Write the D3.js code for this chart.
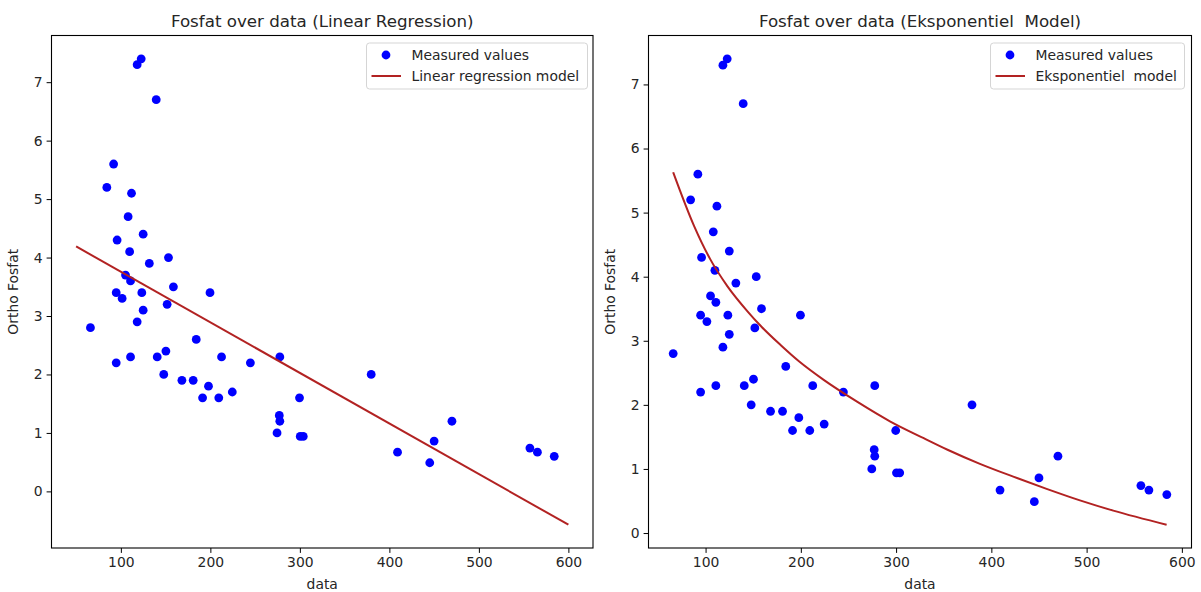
<!DOCTYPE html>
<html>
<head>
<meta charset="utf-8">
<script src="https://cdn.jsdelivr.net/npm/d3@7"></script>
<style>
  html, body { margin: 0; padding: 0; background: #fff; }
  svg { display: block; font-family: "DejaVu Sans", sans-serif; }
  text { white-space: pre; }
</style>
</head>
<body>
<svg id="chart" width="1201" height="592"></svg>
<script>
// ---------- data ----------
const dataX = [118.2, 122.7, 139.5, 91.9, 84.3, 111.9, 108.1, 95.8, 124.9, 109.8,
  153.2, 131.8, 105.2, 110.8, 94.8, 101.4, 123.4, 158.7, 199.6, 151.7,
  124.9, 118.2, 66.0, 184.2, 94.8, 110.8, 140.6, 150.3, 212.5, 244.7,
  277.6, 147.9, 168.2, 180.8, 197.9, 191.3, 209.4, 224.5, 299.6, 277.0,
  277.6, 274.5, 300.4, 303.8, 379.7, 409.1, 445.1, 450.0, 469.9, 557.0,
  565.4, 584.2];
const dataY = [7.3, 7.4, 6.7, 5.6, 5.2, 5.1, 4.7, 4.3, 4.4, 4.1,
  4.0, 3.9, 3.7, 3.6, 3.4, 3.3, 3.4, 3.5, 3.4, 3.2,
  3.1, 2.9, 2.8, 2.6, 2.2, 2.3, 2.3, 2.4, 2.3, 2.2,
  2.3, 2.0, 1.9, 1.9, 1.8, 1.6, 1.6, 1.7, 1.6, 1.3,
  1.2, 1.0, 0.94, 0.94, 2.0, 0.67, 0.49, 0.86, 1.2, 0.74,
  0.67, 0.6];

// linear regression model
const linX = [50, 600];
const linY = [4.19, -0.57];

// exponential model curve
const expX = [66, 88, 105, 123, 144, 158, 179, 198, 224, 259, 294, 329, 354, 388, 423, 458, 493, 528, 584];
const expY = [5.63, 4.79, 4.27, 3.85, 3.46, 3.23, 2.93, 2.68, 2.39, 2.05, 1.74, 1.48, 1.30, 1.08, 0.88, 0.69, 0.51, 0.35, 0.13];

const xTicks = [100, 200, 300, 400, 500, 600];
const yTicks = [0, 1, 2, 3, 4, 5, 6, 7];

const titles = ["Fosfat over data (Linear Regression)", "Fosfat over data (Eksponentiel  Model)"];
const legendLabels = [["Measured values", "Linear regression model"], ["Measured values", "Eksponentiel  model"]];
const xLabel = "data";
const yLabel = "Ortho Fosfat";

// ---------- drawing ----------
const svg = d3.select("#chart");
const pointColor = "#0000ff";
const lineColor = "#b22222";
const points = dataX.map((x, i) => ({x, y: dataY[i]}));

function padded(ext) {
  const r = ext[1] - ext[0];
  return [ext[0] - 0.05 * r, ext[1] + 0.05 * r];
}

const panels = [
  {left: 51.5, right: 593, top: 35.5, bottom: 548,
   curve: linX.map((x, i) => ({x, y: linY[i]})), curveType: d3.curveLinear,
   title: titles[0], legend: legendLabels[0],
   legendBox: {x: 366.5, y: 43, w: 221}},
  {left: 648.5, right: 1191.5, top: 35.5, bottom: 548,
   curve: expX.map((x, i) => ({x, y: expY[i]})), curveType: d3.curveMonotoneX,
   title: titles[1], legend: legendLabels[1],
   legendBox: {x: 990.5, y: 43, w: 194}}
];

panels.forEach(p => {
  const allX = dataX.concat(p.curve.map(d => d.x));
  const allY = dataY.concat(p.curve.map(d => d.y));
  const x = d3.scaleLinear().domain(padded(d3.extent(allX))).range([p.left, p.right]);
  const y = d3.scaleLinear().domain(padded(d3.extent(allY))).range([p.bottom, p.top]);

  const g = svg.append("g");

  // scatter
  g.append("g").selectAll("circle").data(points).join("circle")
    .attr("cx", d => x(d.x)).attr("cy", d => y(d.y)).attr("r", 4.4)
    .attr("fill", pointColor);

  // model line
  const line = d3.line().x(d => x(d.x)).y(d => y(d.y)).curve(p.curveType);
  g.append("path").datum(p.curve).attr("d", line)
    .attr("fill", "none").attr("stroke", lineColor).attr("stroke-width", 2);

  // axes
  const xAxis = g.append("g").attr("transform", `translate(0,${p.bottom})`)
    .call(d3.axisBottom(x).tickValues(xTicks).tickSize(4.9).tickPadding(4).tickFormat(d3.format("d")));
  const yAxis = g.append("g").attr("transform", `translate(${p.left},0)`)
    .call(d3.axisLeft(y).tickValues(yTicks).tickSize(4.9).tickPadding(4).tickFormat(d3.format("d")));
  [xAxis, yAxis].forEach(a => {
    a.select(".domain").remove();
    a.selectAll(".tick line").attr("stroke", "#000").attr("stroke-width", 1);
    a.selectAll(".tick text").attr("font-size", 13.9).attr("fill", "#262626")
      .attr("font-family", "DejaVu Sans, sans-serif");
  });
  xAxis.selectAll(".tick text").attr("dy", "0.71em");

  // frame
  g.append("rect").attr("x", p.left).attr("y", p.top)
    .attr("width", p.right - p.left).attr("height", p.bottom - p.top)
    .attr("fill", "none").attr("stroke", "#000").attr("stroke-width", 1.1);

  // titles & labels
  g.append("text").attr("x", (p.left + p.right) / 2).attr("y", 27)
    .attr("text-anchor", "middle").attr("font-size", 16.7).attr("fill", "#262626").text(p.title);
  g.append("text").attr("x", (p.left + p.right) / 2).attr("y", 588.5)
    .attr("text-anchor", "middle").attr("font-size", 13.9).attr("fill", "#262626").text(xLabel);
  g.append("text")
    .attr("transform", `translate(${p.left - 33.5},${(p.top + p.bottom) / 2}) rotate(-90)`)
    .attr("text-anchor", "middle").attr("font-size", 13.9).attr("fill", "#262626").text(yLabel);

  // legend
  const lb = p.legendBox;
  const lg = g.append("g");
  lg.append("rect").attr("x", lb.x).attr("y", lb.y).attr("width", lb.w).attr("height", 46)
    .attr("rx", 3).attr("fill", "#fff").attr("fill-opacity", 0.8)
    .attr("stroke", "#d5d5d5").attr("stroke-width", 1);
  lg.append("circle").attr("cx", lb.x + 19.5).attr("cy", lb.y + 12).attr("r", 4.4).attr("fill", pointColor);
  lg.append("line").attr("x1", lb.x + 5).attr("x2", lb.x + 34.5)
    .attr("y1", lb.y + 33).attr("y2", lb.y + 33)
    .attr("stroke", lineColor).attr("stroke-width", 2);
  lg.append("text").attr("x", lb.x + 45).attr("y", lb.y + 17)
    .attr("font-size", 13.9).attr("fill", "#262626").text(p.legend[0]);
  lg.append("text").attr("x", lb.x + 45).attr("y", lb.y + 38)
    .attr("font-size", 13.9).attr("fill", "#262626").text(p.legend[1]);
});
</script>
</body>
</html>
